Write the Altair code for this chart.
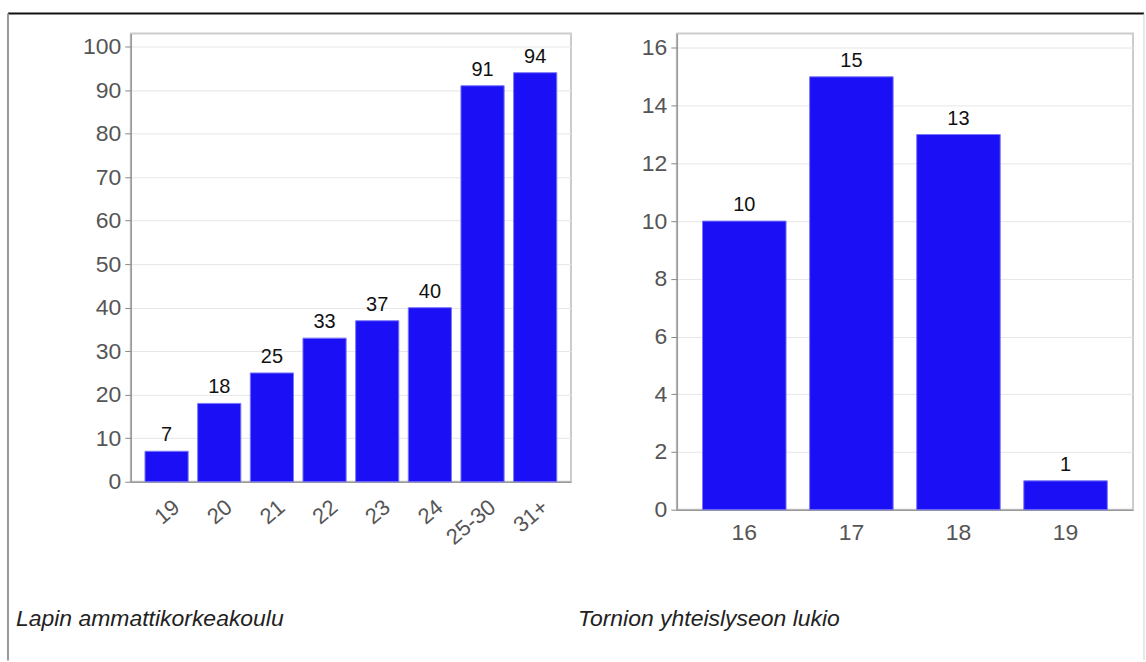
import altair as alt
import pandas as pd

# ---- data ----
left_categories = ["19", "20", "21", "22", "23", "24", "25-30", "31+"]
left_values = [7, 18, 25, 33, 37, 40, 91, 94]
left_caption = ["Lapin ammattikorkeakoulu"]
left_ticks = [0, 10, 20, 30, 40, 50, 60, 70, 80, 90, 100]

right_categories = ["16", "17", "18", "19"]
right_values = [10, 15, 13, 1]
right_caption = ["Tornion yhteislyseon lukio"]
right_ticks = [0, 2, 4, 6, 8, 10, 12, 14, 16]

BAR = "#1b10f5"
FONT = "Liberation Sans"

left_df = pd.DataFrame({"cat": left_categories, "val": left_values})
right_df = pd.DataFrame({"cat": right_categories, "val": right_values})
left_cap_df = pd.DataFrame({"caption": left_caption})
right_cap_df = pd.DataFrame({"caption": right_caption})


def y_axis(ticks):
    return alt.Axis(
        title=None, values=ticks, grid=True, gridColor="#e6e6e6",
        tickSize=6, tickColor="#888", domainColor="#999", domainWidth=1.5,
        labelColor="#555", labelFontSize=23, labelFont=FONT, labelPadding=4,
    )


def panel(df, cats, ticks, ymax, width, height, x_axis, cap_df, cap_x, padding_inner, padding_outer):
    x = alt.X("cat:N", sort=cats, axis=x_axis,
              scale=alt.Scale(paddingInner=padding_inner, paddingOuter=padding_outer))
    y = alt.Y("val:Q", axis=y_axis(ticks), scale=alt.Scale(domain=[0, ymax], nice=False))
    bars = alt.Chart(df).mark_bar(color=BAR, stroke="#7a76f8", strokeWidth=1).encode(x=x, y=y)
    labels = alt.Chart(df).mark_text(
        baseline="bottom", dy=-6, fontSize=20, font=FONT, color="#111"
    ).encode(x=x, y=y, text="val:Q")
    cap = alt.Chart(cap_df).mark_text(
        align="left", baseline="middle", fontSize=23, font=FONT, fontStyle="italic", color="#222"
    ).encode(x=alt.value(cap_x), y=alt.value(587), text="caption:N")
    return alt.layer(bars, labels, cap).properties(width=width, height=height)


left_x_axis = alt.Axis(
    title=None, labelAngle=-40, labelAlign="right", labelBaseline="middle",
    ticks=False, domainColor="#999", domainWidth=1.5, labelColor="#555",
    labelFontSize=22, labelFont=FONT, labelPadding=22, labelOffset=10,
)
right_x_axis = alt.Axis(
    title=None, labelAngle=0, ticks=False, domainColor="#999", domainWidth=1.5,
    labelColor="#555", labelFontSize=23, labelFont=FONT, labelPadding=12,
)

left = panel(left_df, left_categories, left_ticks, 103, 441, 449, left_x_axis,
             left_cap_df, -115, 0.18, 0.27)
right = panel(right_df, right_categories, right_ticks, 16.5, 457, 477, right_x_axis,
              right_cap_df, -99, 0.22, 0.24)

# decorative outer frame lines
top_line = alt.Chart(left_cap_df).mark_rule(color="#111", strokeWidth=2).encode(
    x=alt.value(-123), x2=alt.value(1015), y=alt.value(-20))
left_line = alt.Chart(left_cap_df).mark_rule(color="#999", strokeWidth=2).encode(
    x=alt.value(-123), y=alt.value(-20), y2=alt.value(628))
right_line = alt.Chart(right_cap_df).mark_rule(color="#d0d0d0", strokeWidth=1).encode(
    x=alt.value(468), y=alt.value(-20), y2=alt.value(628))

left = alt.layer(left, top_line, left_line)
right = alt.layer(right, right_line)

chart = alt.hconcat(left, right, spacing=106, bounds="flush").properties(
    padding={"left": 6, "top": 11, "right": 0, "bottom": 0},
    background="#ffffff",
).configure_view(stroke="#cccccc", strokeWidth=2)

chart.save("out.html", embed_options={"renderer": "svg", "actions": False})
